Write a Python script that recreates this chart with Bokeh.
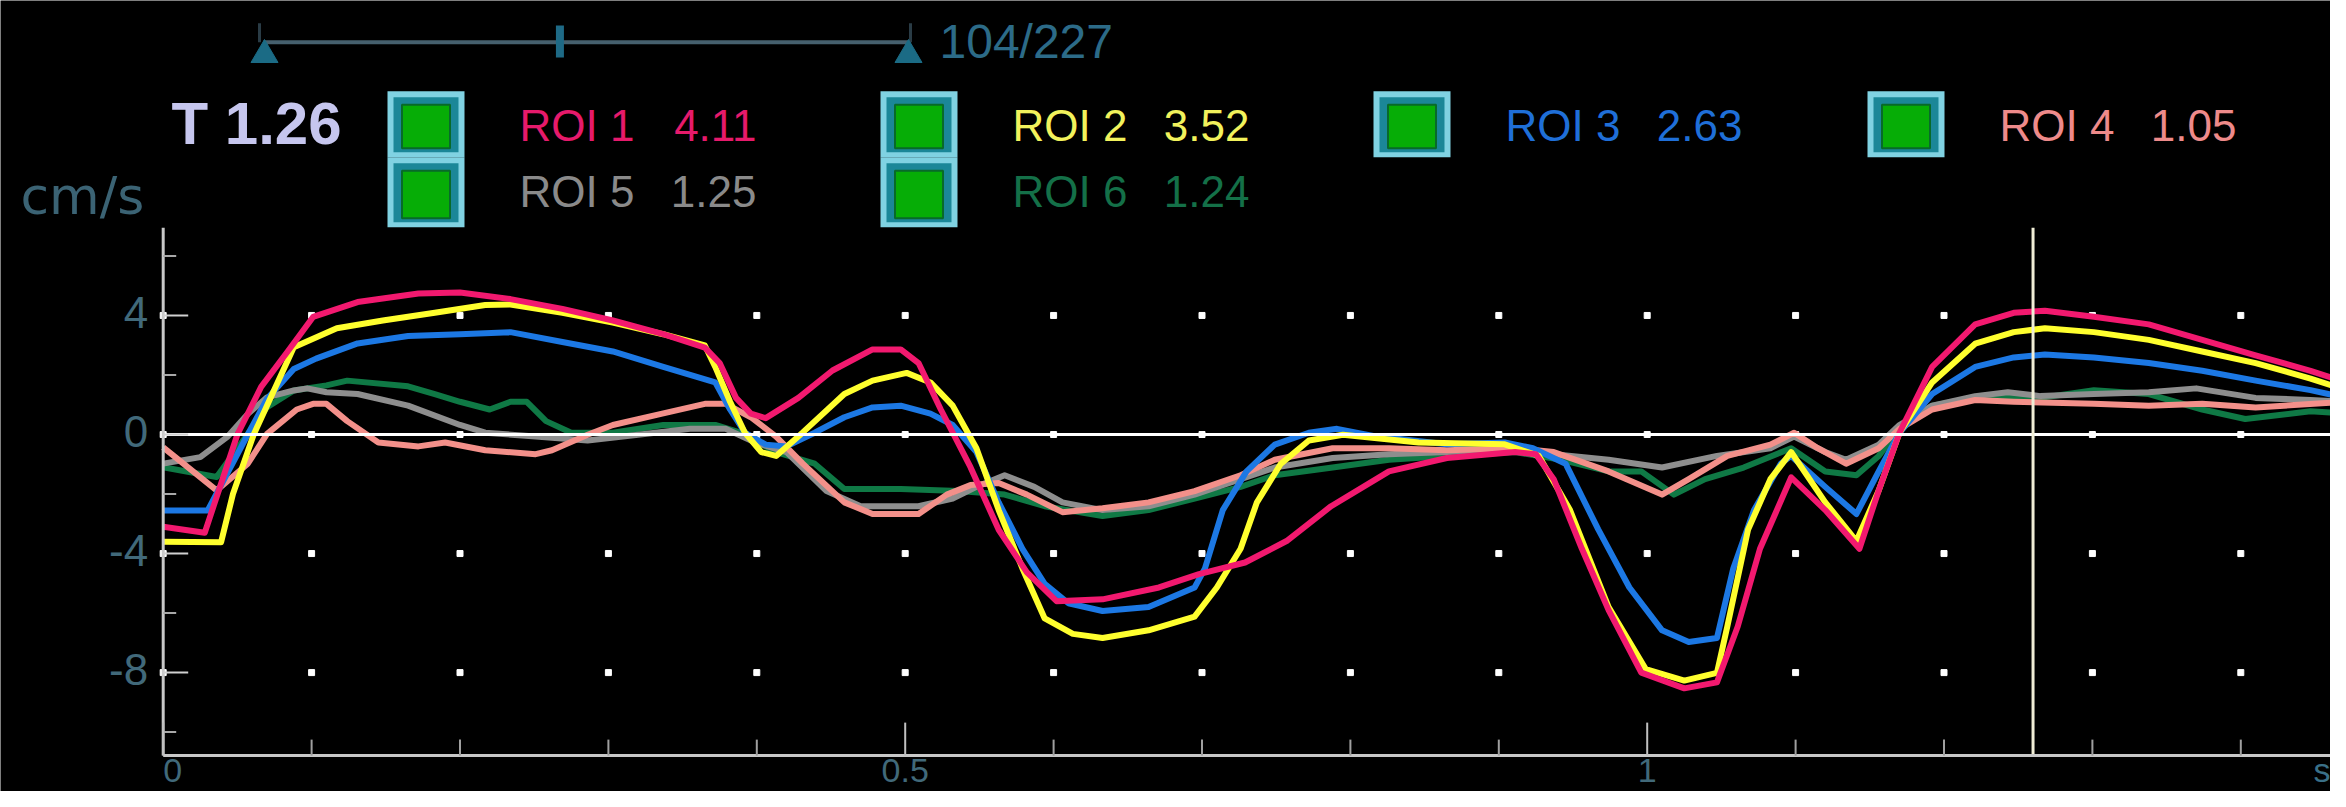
import math
from bokeh.plotting import figure
from bokeh.models import Range1d
from bokeh.embed import file_html
from bokeh.resources import INLINE
from bokeh.core.properties import value

# ---------------- data ----------------
roi_names = ["ROI 1", "ROI 2", "ROI 3", "ROI 4", "ROI 5", "ROI 6"]
roi_values = ["4.11", "3.52", "2.63", "1.05", "1.25", "1.24"]
cursor_t = 1.26
frame_no = 104
frame_total = 227

t1 = [0, 0.028, 0.05, 0.066, 0.084, 0.101, 0.131, 0.172, 0.2, 0.234, 0.269, 0.303, 0.337, 0.365, 0.375, 0.386, 0.396, 0.406, 0.428, 0.451, 0.478, 0.497, 0.509, 0.524, 0.544, 0.563, 0.582, 0.602, 0.633, 0.671, 0.698, 0.729, 0.757, 0.787, 0.826, 0.865, 0.911, 0.925, 0.937, 0.956, 0.974, 0.996, 1.025, 1.047, 1.061, 1.076, 1.097, 1.12, 1.143, 1.156, 1.17, 1.192, 1.221, 1.247, 1.268, 1.301, 1.338, 1.374, 1.41, 1.447, 1.471]
v1 = [-3.1, -3.3, 0.0, 1.6, 2.8, 3.95, 4.45, 4.74, 4.77, 4.55, 4.22, 3.83, 3.37, 2.92, 2.4, 1.23, 0.7, 0.55, 1.23, 2.15, 2.86, 2.86, 2.4, 0.84, -1.1, -3.2, -4.63, -5.6, -5.54, -5.14, -4.69, -4.3, -3.58, -2.41, -1.24, -0.79, -0.59, -0.66, -1.5, -3.84, -5.9, -8.0, -8.53, -8.33, -6.45, -3.84, -1.44, -2.54, -3.84, -1.88, 0.06, 2.27, 3.7, 4.09, 4.16, 3.96, 3.7, 3.18, 2.66, 2.14, 1.75]

t2 = [0, 0.039, 0.047, 0.061, 0.088, 0.117, 0.148, 0.183, 0.217, 0.234, 0.269, 0.303, 0.337, 0.365, 0.372, 0.382, 0.392, 0.403, 0.413, 0.431, 0.459, 0.478, 0.501, 0.517, 0.532, 0.548, 0.563, 0.579, 0.594, 0.613, 0.633, 0.664, 0.695, 0.71, 0.726, 0.737, 0.753, 0.772, 0.795, 0.846, 0.904, 0.927, 0.948, 0.974, 0.999, 1.025, 1.047, 1.054, 1.068, 1.083, 1.097, 1.12, 1.141, 1.156, 1.17, 1.192, 1.221, 1.247, 1.268, 1.301, 1.338, 1.374, 1.41, 1.447, 1.471]
v2 = [-3.6, -3.62, -2.0, 0.0, 2.93, 3.57, 3.83, 4.09, 4.35, 4.37, 4.09, 3.76, 3.37, 2.99, 2.27, 1.1, 0.06, -0.59, -0.72, 0.07, 1.36, 1.81, 2.07, 1.75, 0.97, -0.46, -2.54, -4.5, -6.18, -6.7, -6.84, -6.58, -6.12, -5.14, -3.84, -2.28, -0.99, -0.2, -0.01, -0.27, -0.33, -0.72, -2.54, -5.8, -7.88, -8.27, -8.01, -6.45, -3.19, -1.5, -0.59, -2.28, -3.58, -1.88, 0.06, 1.75, 3.05, 3.44, 3.57, 3.44, 3.18, 2.79, 2.4, 1.88, 1.49]

t3 = [0, 0.03, 0.057, 0.07, 0.088, 0.103, 0.131, 0.165, 0.2, 0.234, 0.269, 0.303, 0.337, 0.372, 0.382, 0.392, 0.406, 0.42, 0.439, 0.459, 0.478, 0.497, 0.517, 0.532, 0.548, 0.563, 0.579, 0.594, 0.61, 0.633, 0.664, 0.695, 0.702, 0.714, 0.73, 0.749, 0.772, 0.791, 0.818, 0.865, 0.904, 0.923, 0.945, 0.967, 0.988, 1.01, 1.028, 1.047, 1.058, 1.072, 1.09, 1.097, 1.12, 1.141, 1.156, 1.17, 1.192, 1.221, 1.247, 1.268, 1.301, 1.338, 1.374, 1.41, 1.447, 1.471]
v3 = [-2.55, -2.55, 0.0, 1.2, 2.2, 2.55, 3.06, 3.31, 3.37, 3.44, 3.11, 2.79, 2.27, 1.75, 0.84, 0.06, -0.34, -0.4, 0.06, 0.58, 0.91, 0.97, 0.7, 0.32, -0.59, -2.28, -3.84, -5.02, -5.67, -5.93, -5.8, -5.14, -4.5, -2.54, -1.24, -0.34, 0.06, 0.19, -0.07, -0.33, -0.27, -0.46, -0.98, -3.19, -5.14, -6.58, -6.97, -6.84, -4.5, -2.54, -0.98, -0.72, -1.76, -2.67, -1.24, 0.06, 1.36, 2.27, 2.59, 2.69, 2.59, 2.4, 2.14, 1.81, 1.49, 1.23]

t4 = [0, 0.036, 0.057, 0.07, 0.09, 0.101, 0.11, 0.124, 0.145, 0.172, 0.19, 0.217, 0.251, 0.262, 0.286, 0.303, 0.337, 0.365, 0.379, 0.396, 0.413, 0.431, 0.459, 0.478, 0.509, 0.528, 0.544, 0.563, 0.582, 0.606, 0.633, 0.664, 0.695, 0.726, 0.749, 0.788, 0.826, 0.865, 0.911, 0.937, 0.974, 1.01, 1.028, 1.054, 1.083, 1.099, 1.115, 1.134, 1.156, 1.17, 1.192, 1.221, 1.247, 1.301, 1.338, 1.374, 1.41, 1.471]
v4 = [-0.43, -1.88, -0.98, 0.02, 0.84, 1.03, 1.03, 0.45, -0.27, -0.4, -0.27, -0.53, -0.66, -0.53, -0.01, 0.32, 0.71, 1.03, 1.03, 0.58, -0.07, -0.98, -2.28, -2.67, -2.67, -2.02, -1.7, -1.63, -2.02, -2.61, -2.48, -2.28, -1.9, -1.37, -0.85, -0.46, -0.46, -0.53, -0.46, -0.59, -1.24, -2.02, -1.5, -0.72, -0.34, 0.06, -0.46, -0.98, -0.46, 0.19, 0.84, 1.16, 1.1, 1.03, 0.97, 1.03, 0.91, 1.1]

t5 = [0, 0.025, 0.043, 0.057, 0.07, 0.088, 0.097, 0.11, 0.131, 0.165, 0.2, 0.217, 0.251, 0.286, 0.32, 0.355, 0.379, 0.399, 0.42, 0.447, 0.47, 0.509, 0.532, 0.548, 0.567, 0.587, 0.606, 0.633, 0.664, 0.695, 0.726, 0.749, 0.788, 0.826, 0.865, 0.911, 0.937, 0.974, 1.01, 1.047, 1.083, 1.099, 1.12, 1.134, 1.156, 1.17, 1.192, 1.221, 1.243, 1.265, 1.301, 1.338, 1.37, 1.41, 1.447, 1.471]
v5 = [-0.98, -0.76, -0.09, 0.69, 1.25, 1.48, 1.55, 1.42, 1.36, 0.97, 0.32, 0.06, -0.07, -0.2, -0.01, 0.19, 0.19, -0.27, -0.59, -1.9, -2.41, -2.41, -2.15, -1.76, -1.37, -1.76, -2.28, -2.54, -2.41, -2.02, -1.5, -1.11, -0.79, -0.66, -0.59, -0.46, -0.66, -0.85, -1.11, -0.72, -0.46, -0.07, -0.59, -0.85, -0.34, 0.32, 0.97, 1.29, 1.42, 1.29, 1.36, 1.42, 1.55, 1.23, 1.16, 1.1]

t6 = [0, 0.036, 0.057, 0.07, 0.088, 0.11, 0.124, 0.165, 0.183, 0.2, 0.22, 0.234, 0.245, 0.258, 0.275, 0.303, 0.337, 0.372, 0.389, 0.413, 0.439, 0.459, 0.497, 0.536, 0.567, 0.594, 0.633, 0.664, 0.695, 0.726, 0.749, 0.788, 0.826, 0.865, 0.911, 0.942, 0.974, 0.996, 1.018, 1.039, 1.065, 1.097, 1.12, 1.141, 1.156, 1.17, 1.192, 1.221, 1.265, 1.301, 1.338, 1.374, 1.403, 1.447, 1.471]
v6 = [-1.1, -1.43, 0.02, 0.92, 1.48, 1.65, 1.81, 1.62, 1.36, 1.1, 0.84, 1.1, 1.1, 0.45, 0.06, 0.06, 0.32, 0.32, 0.06, -0.59, -0.98, -1.83, -1.83, -1.9, -2.02, -2.41, -2.74, -2.54, -2.15, -1.76, -1.37, -1.11, -0.85, -0.72, -0.59, -0.85, -1.24, -1.24, -2.02, -1.5, -1.11, -0.46, -1.24, -1.37, -0.72, 0.19, 0.97, 1.23, 1.23, 1.49, 1.36, 0.84, 0.52, 0.78, 0.71]

y_major = [-8, -4, 0, 4]
y_major_labels = ["-8", "-4", "0", "4"]
y_minor = [-10, -6, -2, 2, 6]
x_major = [0, 0.5, 1.0]
x_major_labels = ["0", "0.5", "1"]
x_minor = [0.1, 0.2, 0.3, 0.4, 0.6, 0.7, 0.8, 0.9, 1.1, 1.2, 1.3, 1.4]
x_unit = "s"
y_unit = "cm/s"

# ---------------- styles / layout ----------------
line_colors = ["#f2196f", "#ffff2e", "#1c78e4", "#f3908a", "#8e8e8e", "#0f7945"]
text_colors = ["#e61a6b", "#f2f25c", "#1f6fd8", "#ee8a8a", "#8a8a8a", "#147048"]
axis_text = "#41697a"
axis_col = "#c8c8c8"
FONT = "Liberation Sans"
BG = "black"

W, H = 2330, 791
X_PX0, PX_PER_S = 162.7, 1484.0       # canvas x of t=0, pixels per second
Y_PX0, PX_PER_UNIT = 434.0, 29.76     # canvas y of v=0, pixels per cm/s
Y_MIN, Y_MAX = -10.79, 6.95           # extent of the plotting area
X_END = (W - X_PX0) / PX_PER_S

p = figure(width=W, height=H,
           x_range=Range1d(-X_PX0 / PX_PER_S, X_END),
           y_range=Range1d((Y_PX0 - H) / PX_PER_UNIT, Y_PX0 / PX_PER_UNIT),
           x_axis_type=None, y_axis_type=None, min_border=0, title=None,
           toolbar_location=None, output_backend="svg",
           background_fill_color=BG, border_fill_color=BG, outline_line_color=None)
p.extra_x_ranges = {"px": Range1d(0, W)}
p.extra_y_ranges = {"px": Range1d(H, 0)}
PX = dict(x_range_name="px", y_range_name="px")

# ---------------- header ----------------
sl_x0, sl_x1, sl_y = 263, 910, 41.7
p.segment(x0=[sl_x0], y0=[sl_y], x1=[sl_x1], y1=[sl_y], line_width=4, line_color="#46606e", **PX)
p.segment(x0=[sl_x0 - 4, sl_x1], y0=[22.7, 22.7], x1=[sl_x0 - 4, sl_x1], y1=[sl_y, sl_y],
          line_width=3, line_color="#2a3c46", **PX)
tri_c = [sl_x0 + 1, sl_x1 - 2]
p.patches(xs=[[c - 13.5, c, c + 13.5] for c in tri_c], ys=[[62, 39, 62]] * 2,
          fill_color="#1b6b85", line_color="#1b6b85", **PX)
mid = sl_x0 + (sl_x1 - sl_x0) * frame_no / frame_total
p.segment(x0=[mid], y0=[25], x1=[mid], y1=[57], line_width=8, line_color="#1e6a86", **PX)
p.text(x=[939], y=[41], text=[f"{frame_no}/{frame_total}"], text_font=value(FONT),
       text_font_size="48px", text_color="#2c6b88", text_baseline="middle", **PX)

p.text(x=[171], y=[122.5], text=[f"T {cursor_t:.2f}"], text_font=value(FONT),
       text_font_size="60px", text_font_style="bold", text_color="#c6c6ee",
       text_baseline="middle", **PX)

p.text(x=[20], y=[195], text=[y_unit], text_font=value("DejaVu Sans"),
       text_font_size="52px", text_color="#3b6374", text_baseline="middle", **PX)

col_left = [387, 880, 1373, 1867, 387, 880]
row_top = [90.7, 90.7, 90.7, 90.7, 156.7, 156.7]
row_h = [66, 66, 66, 66, 70, 70]
bw = 77
p.quad(left=col_left, right=[c + bw for c in col_left], top=row_top,
       bottom=[t + h for t, h in zip(row_top, row_h)], fill_color="#80d2e2", line_color=None, **PX)
p.quad(left=[c + 6 for c in col_left], right=[c + bw - 6 for c in col_left],
       top=[t + 6 for t in row_top], bottom=[t + h - 5 for t, h in zip(row_top, row_h)],
       fill_color="#1b8798", line_color=None, **PX)
p.quad(left=[c + 14.5 for c in col_left], right=[c + bw - 14.5 for c in col_left],
       top=[t + 13.5 for t in row_top], bottom=[t + h - 9 for t, h in zip(row_top, row_h)],
       fill_color="#06ad06", line_color="#086a2a", line_width=2, **PX)

mid_y = [124.5 if i < 4 else 191 for i in range(6)]
p.text(x=[c + 132 for c in col_left], y=mid_y, text=roi_names, text_font=value(FONT),
       text_font_size="44px", text_color=text_colors, text_baseline="middle", **PX)
p.text(x=[c + 369 for c in col_left], y=mid_y, text=roi_values, text_font=value(FONT),
       text_font_size="44px", text_color=text_colors, text_baseline="middle",
       text_align="right", **PX)

# ---------------- plot area ----------------
gx = sorted(x_major + x_minor)
p.scatter([x for y in y_major for x in gx], [y for y in y_major for x in gx],
          marker="square", size=6, color="white")

series = [(t6, v6, 5), (t5, v5, 4), (t4, v4, 3), (t3, v3, 2), (t2, v2, 1), (t1, v1, 0)]
for t, v, i in series:
    p.line(t, v, line_width=6, line_color=line_colors[i], line_join="round")

# zero line and time cursor
p.segment(x0=[0], y0=[0], x1=[X_END], y1=[0], line_color="white", line_width=3)
p.segment(x0=[cursor_t], y0=[Y_MIN], x1=[cursor_t], y1=[Y_MAX], line_color="#f0eed6", line_width=3)

# axes
p.segment(x0=[0, 0], y0=[Y_MIN, Y_MIN], x1=[0, X_END], y1=[Y_MAX, Y_MIN],
          line_color=axis_col, line_width=3)
p.ray(x=[0] * len(y_major), y=y_major, length=25, angle=0, length_units="screen",
      line_color="#d0d0d0", line_width=2)
p.ray(x=[0] * len(y_minor), y=y_minor, length=13, angle=0, length_units="screen",
      line_color="#a8a8a8", line_width=2)
p.ray(x=x_major, y=[Y_MIN] * len(x_major), length=33, angle=math.pi / 2, length_units="screen",
      line_color="#c0c0c0", line_width=2)
p.ray(x=x_minor, y=[Y_MIN] * len(x_minor), length=16, angle=math.pi / 2, length_units="screen",
      line_color="#a0a0a0", line_width=2)

p.text(x=[0] * len(y_major), y=[v + 3 / PX_PER_UNIT for v in y_major], text=y_major_labels,
       x_offset=-15, text_align="right", text_baseline="middle", text_font=value(FONT),
       text_font_size="44px", text_color=axis_text)

xl_y = (Y_PX0 - 769.5) / PX_PER_UNIT
p.text(x=x_major, y=[xl_y] * len(x_major), text=x_major_labels,
       text_align=["left" if v == 0 else "center" for v in x_major],
       text_baseline="middle", text_font=value(FONT), text_font_size="34px",
       text_color=axis_text)
p.text(x=[X_END], y=[xl_y], text=[x_unit], text_align="right", text_baseline="middle",
       text_font=value(FONT), text_font_size="34px", text_color="#3a7088")

open("out.html", "w").write(file_html(p, INLINE))
